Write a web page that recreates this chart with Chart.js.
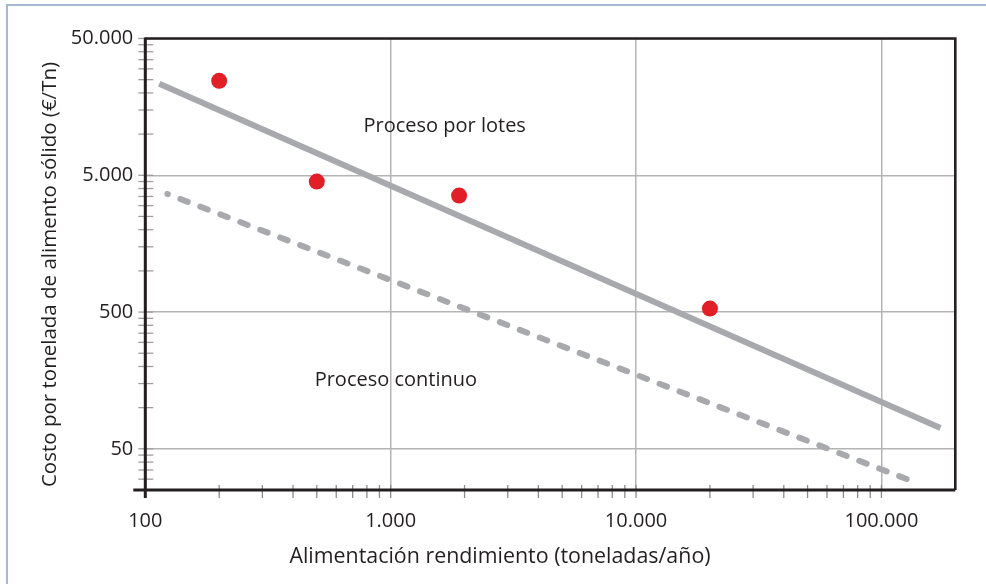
<!DOCTYPE html>
<html lang="es">
<head>
<meta charset="utf-8">
<title>Costo por tonelada de alimento sólido</title>
<script src="https://cdn.jsdelivr.net/npm/chart.js@4.4.1/dist/chart.umd.min.js"></script>
<style>
  html, body { margin: 0; padding: 0; background: #fff; overflow: hidden; }
  #wrap { position: relative; width: 986px; height: 584px; }
  #frame { position: absolute; left: 6px; top: 4px; width: 1000px; height: 620px;
           border-left: 2px solid #a6b7d1; border-top: 2px solid #a6b7d1; }
  canvas { position: absolute; left: 0; top: 0; }
</style>
</head>
<body>
<div id="wrap">
  <div id="frame"></div>
  <canvas id="myChart" width="986" height="584"></canvas>
</div>
<script>
// axis ranges (log-log)
const xMin = 100, xMax = 200000;
const yMin = 25, yMax = 50000;

// tick values, major ones get a label and a grid line
const xTicks = [100, 200, 300, 400, 500, 600, 700, 800, 900,
                1000, 2000, 3000, 4000, 5000, 6000, 7000, 8000, 9000,
                10000, 20000, 30000, 40000, 50000, 60000, 70000, 80000, 90000,
                100000];
const xMajor = [100, 1000, 10000, 100000];
const yTicks = [30, 35, 40, 45, 50,
                100, 150, 200, 250, 300, 350, 400, 450, 500,
                1000, 1500, 2000, 2500, 3000, 3500, 4000, 4500, 5000,
                10000, 15000, 20000, 25000, 30000, 35000, 40000, 45000, 50000];
const yMajor = [50, 500, 5000, 50000];

// batch process trend line (solid)
const batchX = [114, 174000];
const batchY = [23300, 71];
// continuous process trend line (dashed)
const contX = [123, 127000];
const contY = [3650, 30];
// plant data points (red)
const pointX = [200, 500, 1900, 20000];
const pointY = [24500, 4500, 3550, 530];

// text notes inside the plot
const noteText = ["Proceso por lotes", "Proceso continuo"];
const noteX = [1660, 1050];
const noteY = [11500, 158];

const xTitle = "Alimentación rendimiento (toneladas/año)";
const yTitle = "Costo por tonelada de alimento sólido (€/Tn)";

const FONT = "'Open Sans', 'Noto Sans', sans-serif";
const TEXT = "#231f20";
const LINE_GRAY = "#a7a9ac";
const GRID_GRAY = "#b4b4b4";
const RED = "#e21f26";

// 50000 -> "50.000"
function fmt(v) {
    return String(v).replace(/\B(?=(\d{3})+(?!\d))/g, ".");
}

function toPoints(xs, ys) {
    return xs.map((x, i) => ({ x: x, y: ys[i] }));
}

// frame, axis lines, crossing tick marks, notes and axis titles
const decorPlugin = {
    id: "decor",
    afterDatasetsDraw(chart) {
        const ctx = chart.ctx;
        const a = chart.chartArea;
        const xs = chart.scales.x;
        const ys = chart.scales.y;
        ctx.save();

        // tick marks across the axes
        ctx.lineWidth = 1.3;
        ctx.strokeStyle = "#8c8c8c";
        xTicks.forEach(v => {
            const px = xs.getPixelForValue(v);
            ctx.beginPath();
            ctx.moveTo(px, a.bottom - 5);
            ctx.lineTo(px, a.bottom + 8);
            ctx.stroke();
        });
        ctx.strokeStyle = "#9e9e9e";
        yTicks.forEach(v => {
            const py = ys.getPixelForValue(v);
            ctx.beginPath();
            ctx.moveTo(a.left - 7, py);
            ctx.lineTo(a.left + 8, py);
            ctx.stroke();
        });

        // plot border: thick axes, thinner top/right
        ctx.strokeStyle = TEXT;
        ctx.lineWidth = 2.6;
        ctx.beginPath();
        ctx.moveTo(a.left, a.top);
        ctx.lineTo(a.right, a.top);
        ctx.lineTo(a.right, a.bottom);
        ctx.stroke();
        ctx.lineWidth = 3;
        ctx.beginPath();
        ctx.moveTo(a.left - 12, a.bottom);
        ctx.lineTo(a.right, a.bottom);
        ctx.moveTo(a.left, a.top - 1);
        ctx.lineTo(a.left, a.bottom + 8);
        ctx.stroke();

        // notes
        ctx.fillStyle = TEXT;
        ctx.font = "20px " + FONT;
        ctx.textAlign = "center";
        ctx.textBaseline = "middle";
        noteText.forEach((t, i) => {
            ctx.fillText(t, xs.getPixelForValue(noteX[i]), ys.getPixelForValue(noteY[i]));
        });

        // axis titles
        ctx.font = "21.4px " + FONT;
        ctx.fillText(xTitle, 500, 557);
        ctx.font = "20.5px " + FONT;
        ctx.translate(50, 274.5);
        ctx.rotate(-Math.PI / 2);
        ctx.fillText(yTitle, 0, 0);
        ctx.restore();
    }
};

let Ctxt = document.getElementById("myChart").getContext("2d");

let ChartInst = new Chart(Ctxt, {
    type: "scatter",
    data: {
        datasets: [
            {
                label: "Datos",
                data: toPoints(pointX, pointY),
                backgroundColor: RED,
                borderWidth: 0,
                pointRadius: 8,
                pointHoverRadius: 8,
                order: 0
            },
            {
                label: "Proceso por lotes",
                data: toPoints(batchX, batchY),
                showLine: true,
                borderColor: LINE_GRAY,
                borderWidth: 6,
                borderCapStyle: "butt",
                pointRadius: 0,
                order: 1
            },
            {
                label: "Proceso continuo",
                data: toPoints(contX, contY),
                showLine: true,
                borderColor: LINE_GRAY,
                borderWidth: 6,
                borderCapStyle: "round",
                borderDash: [8, 13.4],
                borderDashOffset: 7.5,
                pointRadius: 0,
                order: 2
            }
        ]
    },
    options: {
        responsive: false,
        animation: false,
        devicePixelRatio: 1,
        layout: { padding: { left: 0, top: 38.5, right: 30.7, bottom: 0 } },
        plugins: {
            legend: { display: false },
            tooltip: { enabled: false }
        },
        scales: {
            x: {
                type: "logarithmic",
                min: xMin,
                max: xMax,
                afterBuildTicks: s => { s.ticks = xTicks.map(v => ({ value: v })); },
                afterFit: s => { s.height = 94; },
                border: { display: false },
                grid: {
                    drawTicks: false,
                    lineWidth: 1.5,
                    color: c => (c.tick && xMajor.includes(c.tick.value)) ? GRID_GRAY : "rgba(0,0,0,0)"
                },
                ticks: {
                    autoSkip: false,
                    maxRotation: 0,
                    padding: 19,
                    color: TEXT,
                    font: { family: FONT, size: 20 },
                    callback: v => xMajor.includes(v) ? fmt(v) : ""
                }
            },
            y: {
                type: "logarithmic",
                min: yMin,
                max: yMax,
                afterBuildTicks: s => { s.ticks = yTicks.map(v => ({ value: v })); },
                afterFit: s => { s.width = 145.3; },
                border: { display: false },
                grid: {
                    drawTicks: false,
                    lineWidth: 1.5,
                    color: c => (c.tick && yMajor.includes(c.tick.value)) ? GRID_GRAY : "rgba(0,0,0,0)"
                },
                ticks: {
                    autoSkip: false,
                    padding: 12,
                    color: TEXT,
                    font: { family: FONT, size: 20 },
                    callback: v => yMajor.includes(v) ? fmt(v) : ""
                }
            }
        }
    },
    plugins: [decorPlugin]
});
</script>
</body>
</html>
